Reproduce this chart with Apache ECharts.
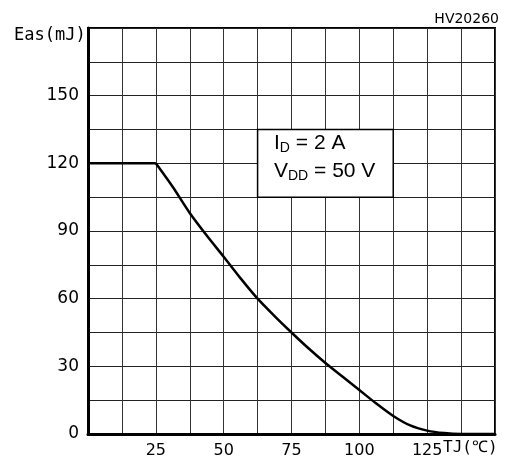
<!DOCTYPE html>
<html>
<head>
<meta charset="utf-8">
<script src="https://cdn.jsdelivr.net/npm/echarts@6/dist/echarts.min.js"></script>
<style>
  html, body { margin: 0; padding: 0; background: #fff; }
  #chart { width: 510px; height: 460px; }
</style>
</head>
<body>
<div id="chart"></div>
<script>
  // Tj (°C) vs Eas (mJ)
  var flatTj = [0, 25];
  var flatEas = [120, 120];
  var tj = [25, 31.25, 37.5, 43.75, 50, 56.25, 62.5, 68.75, 75, 81.25, 87.5, 93.75, 100, 106.25, 112.5, 118.75, 125, 131.25, 137.5, 150];
  var eas = [120, 109.5, 98, 88, 78.6, 69, 60, 52.3, 45, 38, 31.5, 25.5, 19.5, 13.5, 8, 3.8, 1.5, 0.4, 0, 0];
  var xTickLabels = [25, 50, 75, 100, 125];
  var yTickLabels = [0, 30, 60, 90, 120, 150];

  var flat = flatTj.map(function (t, i) { return [t, flatEas[i]]; });
  var curve = tj.map(function (t, i) { return [t, eas[i]]; });

  var chart = echarts.init(document.getElementById('chart'));
  var option = {
    animation: false,
    grid: {
      left: 88, top: 28, right: 15, bottom: 26,
      show: true, borderColor: '#000', borderWidth: 2
    },
    xAxis: {
      type: 'value', min: 0, max: 150, interval: 12.5,
      axisLine: { show: true, lineStyle: { color: '#000', width: 3 } },
      axisTick: { show: false },
      splitLine: { show: true, lineStyle: { color: '#333', width: 1 } },
      axisLabel: {
        margin: 9, color: '#000', fontSize: 16, fontFamily: 'DejaVu Sans',
        formatter: function (v) { return xTickLabels.indexOf(v) >= 0 ? String(v) : ''; }
      }
    },
    yAxis: {
      type: 'value', min: 0, max: 180, interval: 15,
      axisLine: { show: true, lineStyle: { color: '#000', width: 3 } },
      axisTick: { show: false },
      splitLine: { show: true, lineStyle: { color: '#222', width: 1 } },
      axisLabel: {
        margin: 9, color: '#000', fontSize: 17, fontFamily: 'DejaVu Sans',
        formatter: function (v) { return yTickLabels.indexOf(v) >= 0 ? String(v) : ''; }
      }
    },
    series: [{
      type: 'line',
      data: flat,
      showSymbol: false,
      lineStyle: { color: '#000', width: 2.5 },
      markArea: {
        silent: true,
        itemStyle: { color: '#fff', borderColor: '#000', borderWidth: 1.5, opacity: 1 },
        data: [[{ coord: [62.5, 135] }, { coord: [112.5, 105] }]]
      }
    }, {
      type: 'line',
      data: curve,
      showSymbol: false,
      smooth: 0.25,
      lineStyle: { color: '#000', width: 2.5 }
    }],
    graphic: [
      {
        type: 'text', left: 14, top: 27, z: 10,
        style: { text: 'Eas(mJ)', fontSize: 17, fontFamily: 'DejaVu Sans Mono', fontWeight: 200, fill: '#000' }
      },
      {
        type: 'text', left: 443, top: 440, z: 10,
        style: { text: 'TJ(℃)', fontSize: 16, fontFamily: 'DejaVu Sans Mono', fontWeight: 200, fill: '#000' }
      },
      {
        type: 'text', right: 11, top: 12, z: 10,
        style: { text: 'HV20260', fontSize: 14, fontFamily: 'DejaVu Sans', fill: '#000' }
      },
      {
        type: 'text', left: 274, top: 133, z: 10,
        style: {
          text: '{m|I}{s|D}{m| = 2 A}\n{m|V}{s|DD}{m| = 50 V}',
          fill: '#000',
          fontFamily: 'Liberation Sans',
          fontSize: 21,
          rich: {
            m: { fontSize: 21, fontFamily: 'Liberation Sans', lineHeight: 28, fill: '#000' },
            s: { fontSize: 14, fontFamily: 'Liberation Sans', lineHeight: 28, verticalAlign: 'bottom', fill: '#000', padding: [0, 0, 2, 0] }
          }
        }
      }
    ]
  };
  chart.setOption(option);
</script>
</body>
</html>
